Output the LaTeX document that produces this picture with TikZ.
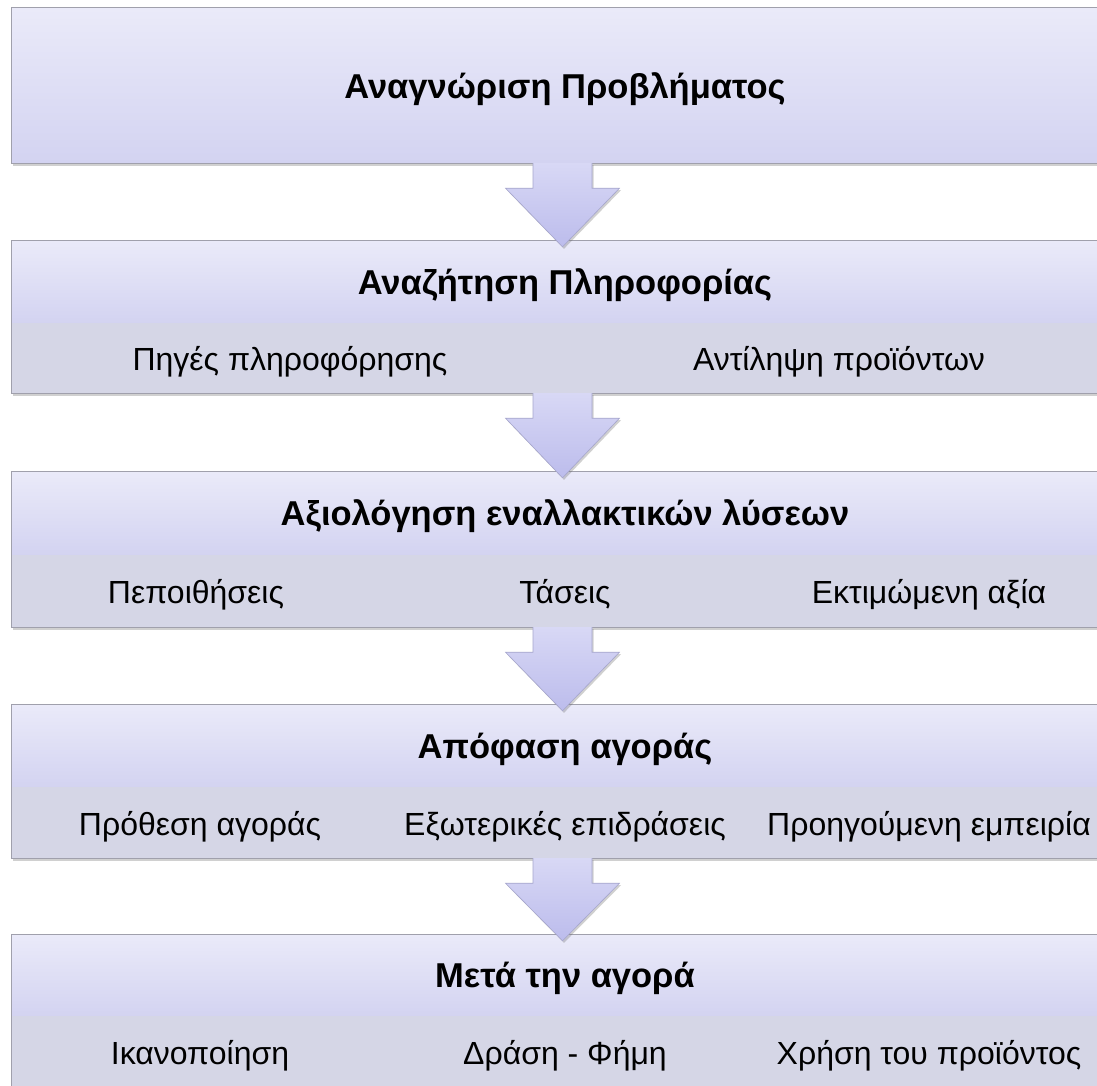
\documentclass[tikz,border=0pt]{standalone}
\usepackage{fontspec}
\setmainfont{Liberation Sans}
\usetikzlibrary{calc,shadows}
\definecolor{titletop}{HTML}{EAEAF9}
\definecolor{titlebot}{HTML}{D3D3F1}
\definecolor{subfill}{HTML}{D5D6E6}
\definecolor{boxline}{HTML}{A0A0AC}
\definecolor{arrtop}{HTML}{D8D8F5}
\definecolor{arrbot}{HTML}{BCBCEC}
\definecolor{arrline}{HTML}{A6A6CC}
\tikzset{
  boxshadow/.style={drop shadow={opacity=0.3,shadow xshift=1pt,shadow yshift=-2.5pt,fill=black!60}},
  titlerow/.style={rectangle,inner sep=0pt,minimum width=1106pt,top color=titletop,bottom color=titlebot},
  titletext/.style={inner sep=0pt,anchor=base,yshift=-12.4pt,font=\fontsize{34.5}{40}\selectfont\bfseries},
  subrow/.style={rectangle,inner sep=0pt,minimum width=1106pt,fill=subfill},
  subtext/.style={inner sep=0pt,anchor=base,yshift=-12.5pt,font=\fontsize{32}{38}\selectfont},
  outline/.style={draw=boxline,line width=1.2pt},
  blockarrow/.style={top color=arrtop,bottom color=arrbot,draw=arrline,line width=0.6pt,line join=miter,
     drop shadow={opacity=0.3,shadow xshift=1.5pt,shadow yshift=-2pt,fill=black!60}}
}
\begin{document}
\begin{tikzpicture}[x=1pt,y=-1pt]
\path[use as bounding box,clip] (0,0) rectangle (1097,1085);
\fill[white] (0,0) rectangle (1097,1085);

% Box 1
\fill[boxshadow,white] (12,8) rectangle (1118,163);
\node[titlerow,minimum height=155pt] (t1) at (565,85.5) {};
\node[titletext] (t1x) at (565,86) {Αναγνώριση Προβλήματος};
\draw[outline] (t1.north west) rectangle (t1.south east);

% Box 2
\fill[boxshadow,white] (12,241) rectangle (1118,393);
\node[titlerow,minimum height=82pt] (t2) at (565,282) {};
\node[titletext] (t2x) at (565,282) {Αναζήτηση Πληροφορίας};
\node[subrow,minimum height=70pt] (s2) at (565,358) {};
\node[subtext] (s2a) at (290,358) {Πηγές πληροφόρησης};
\node[subtext] (s2b) at (839,358) {Αντίληψη προϊόντων};
\draw[outline] (t2.north west) rectangle (s2.south east);

% Box 3
\fill[boxshadow,white] (12,472) rectangle (1118,627);
\node[titlerow,minimum height=83pt] (t3) at (565,513.5) {};
\node[titletext] (t3x) at (565,513.5) {Αξιολόγηση εναλλακτικών λύσεων};
\node[subrow,minimum height=72pt] (s3) at (565,591) {};
\node[subtext] (s3a) at (196,591) {Πεποιθήσεις};
\node[subtext] (s3b) at (565,591) {Τάσεις};
\node[subtext] (s3c) at (929,591) {Εκτιμώμενη αξία};
\draw[outline] (t3.north west) rectangle (s3.south east);

% Box 4
\fill[boxshadow,white] (12,705) rectangle (1118,858);
\node[titlerow,minimum height=82pt] (t4) at (565,746) {};
\node[titletext] (t4x) at (565,746) {Απόφαση αγοράς};
\node[subrow,minimum height=71pt] (s4) at (565,822.5) {};
\node[subtext] (s4a) at (200,822.5) {Πρόθεση αγοράς};
\node[subtext] (s4b) at (565,822.5) {Εξωτερικές επιδράσεις};
\node[subtext] (s4c) at (929,822.5) {Προηγούμενη εμπειρία};
\draw[outline] (t4.north west) rectangle (s4.south east);

% Box 5
\fill[boxshadow,white] (12,935) rectangle (1118,1087);
\node[titlerow,minimum height=81pt] (t5) at (565,975.5) {};
\node[titletext] (t5x) at (565,975.5) {Μετά την αγορά};
\node[subrow,minimum height=71pt] (s5) at (565,1051.5) {};
\node[subtext] (s5a) at (200,1051.5) {Ικανοποίηση};
\node[subtext] (s5b) at (565,1051.5) {Δράση - Φήμη};
\node[subtext] (s5c) at (929,1051.5) {Χρήση του προϊόντος};
\draw[outline] (t5.north west) rectangle (s5.south east);

% Block arrows
\foreach \a/\b in {t1/t2,s2/t3,s3/t4,s4/t5}{
  \draw[blockarrow]
    ($(\a.south)+(-32,0)$) -- ($(\a.south)+(-32,25)$) -- ($(\a.south)+(-59.5,25)$)
    -- ($(\b.north)+(-2.5,6)$)
    -- ($(\a.south)+(54.5,25)$) -- ($(\a.south)+(27,25)$) -- ($(\a.south)+(27,0)$);
}
\end{tikzpicture}
\end{document}
